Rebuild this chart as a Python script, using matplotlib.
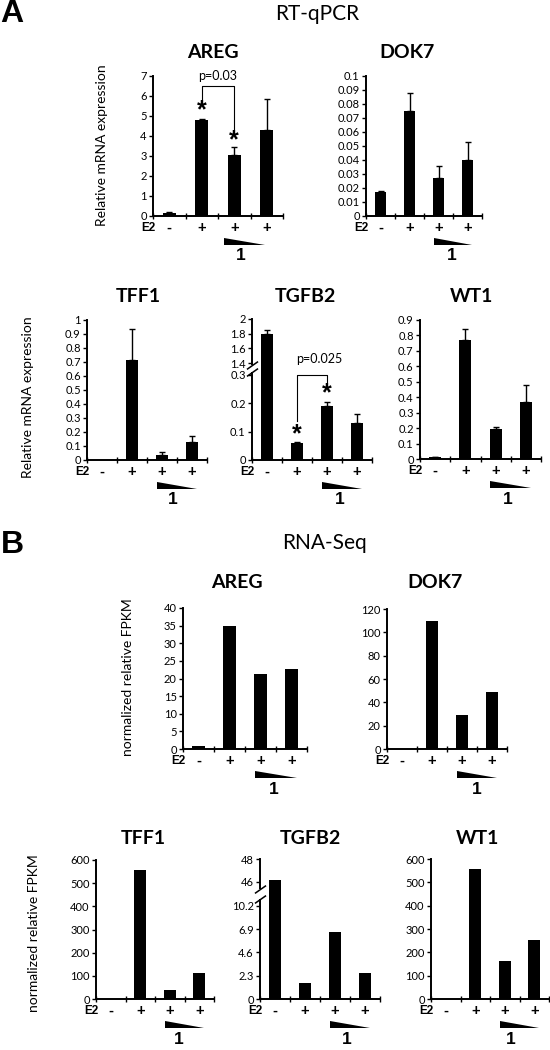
import numpy as np
import matplotlib
matplotlib.use('Agg')
import matplotlib.pyplot as plt
import matplotlib.transforms as mtransforms
from matplotlib.patches import Polygon

# ---------------- data ----------------
signs = ['-', '+', '+', '+']

qpcr_areg = [0.13, 4.82, 3.03, 4.30]
qpcr_areg_err = [0.05, 0.04, 0.40, 1.55]
qpcr_dok7 = [0.0173, 0.075, 0.027, 0.0397]
qpcr_dok7_err = [0.0005, 0.013, 0.0087, 0.0133]
qpcr_tff1 = [0.0, 0.713, 0.037, 0.13]
qpcr_tff1_err = [0.0, 0.222, 0.02, 0.045]
qpcr_tgfb2 = [1.79, 0.06, 0.19, 0.13]
qpcr_tgfb2_err = [0.055, 0.004, 0.015, 0.03]
qpcr_wt1 = [0.011, 0.773, 0.193, 0.366]
qpcr_wt1_err = [0.005, 0.071, 0.013, 0.112]

seq_areg = [0.8, 34.8, 21.3, 22.7]
seq_dok7 = [0.4, 110.0, 29.3, 49.0]
seq_tff1 = [0.0, 556.0, 37.0, 113.0]
seq_tgfb2 = [46.2, 1.55, 6.6, 2.55]
seq_wt1 = [0.0, 558.0, 163.0, 253.0]

areg_a_ticks = [0, 1, 2, 3, 4, 5, 6, 7]
areg_a_labels = ['0', '1', '2', '3', '4', '5', '6', '7']
dok7_a_ticks = [0, 0.01, 0.02, 0.03, 0.04, 0.05, 0.06, 0.07, 0.08, 0.09, 0.1]
dok7_a_labels = ['0', '0.01', '0.02', '0.03', '0.04', '0.05', '0.06', '0.07', '0.08', '0.09', '0.1']
tff1_a_ticks = [0, 0.1, 0.2, 0.3, 0.4, 0.5, 0.6, 0.7, 0.8, 0.9, 1.0]
tff1_a_labels = ['0', '0.1', '0.2', '0.3', '0.4', '0.5', '0.6', '0.7', '0.8', '0.9', '1']
tgfb2_a_ticks = [0, 0.1, 0.2, 0.3, 1.4, 1.6, 1.8, 2.0]
tgfb2_a_labels = ['0', '0.1', '0.2', '0.3', '1.4', '1.6', '1.8', '2']
wt1_a_ticks = [0, 0.1, 0.2, 0.3, 0.4, 0.5, 0.6, 0.7, 0.8, 0.9]
wt1_a_labels = ['0', '0.1', '0.2', '0.3', '0.4', '0.5', '0.6', '0.7', '0.8', '0.9']

areg_b_ticks = [0, 5, 10, 15, 20, 25, 30, 35, 40]
dok7_b_ticks = [0, 20, 40, 60, 80, 100, 120]
tff1_b_ticks = [0, 100, 200, 300, 400, 500, 600]
tgfb2_b_ticks = [0, 2.3, 4.6, 6.9, 10.2, 46, 48]
tgfb2_b_labels = ['0', '2.3', '4.6', '6.9', '10.2', '46', '48']
wt1_b_ticks = [0, 100, 200, 300, 400, 500, 600]

# broken-axis scale definitions (value -> scaled position)
tgfb2_a_break_vals = [0, 0.3, 1.4, 2.0]
tgfb2_a_break_pos = [0, 0.3, 0.34, 0.495]
tgfb2_b_break_vals = [0, 6.9, 10.2, 46, 48]
tgfb2_b_break_pos = [0, 6.9, 9.2, 11.55, 13.82]

# ---------------- style ----------------
W, H = 550, 1050
CAL = 'Lato'
ARI = 'Liberation Sans'
plt.rcParams['font.family'] = [CAL, 'DejaVu Sans']

fig = plt.figure(figsize=(W / 100, H / 100), dpi=100)


def rect(l, t, r, b):
    return [l / W, 1 - b / H, (r - l) / W, (b - t) / H]


def piecewise(xs, ys):
    a = np.asarray(xs, float)
    b = np.asarray(ys, float)
    s0 = (b[1] - b[0]) / (a[1] - a[0])
    s1 = (b[-1] - b[-2]) / (a[-1] - a[-2])

    def f(v):
        v = np.asarray(v, float)
        out = np.interp(v, a, b)
        out = np.where(v < a[0], b[0] + (v - a[0]) * s0, out)
        out = np.where(v > a[-1], b[-1] + (v - a[-1]) * s1, out)
        return out
    return f


def make_axes(box, vals, ylim, yticks, ylabels, err=None, wedge=(1.83, 3.17),
              one_x=2.4, scale=None):
    l, t, r, b = box
    hpx = b - t
    ax = fig.add_axes(rect(*box))
    if scale is not None:
        fwd = piecewise(*scale)
        inv = piecewise(scale[1], scale[0])
        ax.set_yscale('function', functions=(fwd, inv))
    x = np.arange(len(vals))
    ax.bar(x, vals, width=0.4, color='black', zorder=2)
    if err is not None:
        e = np.asarray(err)
        m = e > 0
        ax.errorbar(x[m], np.asarray(vals)[m], yerr=[np.zeros(m.sum()), e[m]],
                    fmt='none', ecolor='black', elinewidth=1.0, capsize=2.2,
                    capthick=1.0, zorder=3)
    ax.set_xlim(-0.5, 3.5)
    ax.set_ylim(*ylim)
    for s in ['top', 'right']:
        ax.spines[s].set_visible(False)
    for s in ['left', 'bottom']:
        ax.spines[s].set_linewidth(1.4)
    ax.set_yticks(yticks)
    ax.set_yticklabels(ylabels, fontsize=8, family=CAL)
    ax.yaxis.set_minor_locator(matplotlib.ticker.NullLocator())
    ax.tick_params(axis='y', direction='out', length=3, width=1, pad=1.5)
    ax.set_xticks(x)
    ax.set_xticklabels(signs, fontsize=10.5, family=ARI, fontweight='bold')
    for lab in ax.get_xticklabels():
        lab.set_va('center')
    ax.tick_params(axis='x', which='major', length=0, pad=12 * 0.72)
    ax.set_xticks([-0.5, 0.5, 1.5, 2.5, 3.5], minor=True)
    ax.tick_params(axis='x', which='minor', direction='inout', length=5, width=1)
    # E2 label
    ax.annotate('E2', xy=(0, 0), xycoords='axes fraction', xytext=(2, -12 * 0.72),
                textcoords='offset points', ha='right', va='center',
                fontsize=8.5, family=ARI, fontweight='bold', annotation_clip=False)
    # wedge
    tr = mtransforms.blended_transform_factory(ax.transData, ax.transAxes)
    y_top, y_bot = -21.5 / hpx, -28.5 / hpx
    poly = Polygon([(wedge[0], y_top), (wedge[0], y_bot), (wedge[1], y_bot)],
                   closed=True, facecolor='black', edgecolor='none',
                   transform=tr, clip_on=False)
    ax.add_patch(poly)
    ax.annotate('1', xy=(one_x, 0), xycoords=('data', 'axes fraction'),
                xytext=(0, -40 * 0.72), textcoords='offset points', ha='center',
                va='center', fontsize=12.5, family=ARI, fontweight='bold',
                annotation_clip=False)
    return ax


def add_break(ax, y1, y2):
    tr = mtransforms.blended_transform_factory(ax.transAxes, ax.transData)
    ax.plot([0, 0], [y1, y2], transform=tr, color='white', lw=3, clip_on=False,
            zorder=5, solid_capstyle='butt')
    ax.plot([0, 0], [y1, y2], transform=tr, linestyle='none',
            marker=[(-1, -0.7), (1, 0.7)], markersize=8, mew=1.1,
            color='black', clip_on=False, zorder=6)


def title(x, y, s):
    fig.text(x / W, 1 - y / H, s, ha='center', va='center', fontsize=14,
             family=CAL, fontweight='bold')


def ylab(x, y, s):
    fig.text(x / W, 1 - y / H, s, ha='center', va='center', rotation=90,
             fontsize=10, family=CAL)


# ---------------- panel A ----------------
fig.text(12 / W, 1 - 14 / H, 'A', ha='center', va='center', fontsize=23,
         family=ARI, fontweight='bold')
fig.text(317 / W, 1 - 14 / H, 'RT-qPCR', ha='center', va='center', fontsize=15,
         family=CAL)

ax = make_axes((153, 76, 283, 216), qpcr_areg, (0, 7), areg_a_ticks, areg_a_labels,
               err=qpcr_areg_err, wedge=(1.68, 2.95), one_x=2.2)
ax.plot([1, 1, 2, 2], [5.5, 6.5, 6.5, 4.0], color='black', lw=0.8)
ax.text(1.5, 7.0, 'p=0.03', ha='center', va='center', fontsize=9, family=CAL)
ax.text(1, 5.3, '*', ha='center', va='center', fontsize=18, family=ARI, fontweight='bold')
ax.text(2, 3.8, '*', ha='center', va='center', fontsize=18, family=ARI, fontweight='bold')
title(213, 52, 'AREG')
ylab(102, 145, 'Relative mRNA expression')

make_axes((366, 76, 482, 216), qpcr_dok7, (0, 0.1), dok7_a_ticks, dok7_a_labels,
          err=qpcr_dok7_err, one_x=2.47)
title(407, 52, 'DOK7')

make_axes((87, 320, 207, 460), qpcr_tff1, (0, 1.0), tff1_a_ticks, tff1_a_labels,
          err=qpcr_tff1_err, one_x=2.37)
title(138, 296, 'TFF1')
ylab(28, 397, 'Relative mRNA expression')

ax = make_axes((252, 319, 372, 460), qpcr_tgfb2, (0, 2.0), tgfb2_a_ticks,
               tgfb2_a_labels, err=qpcr_tgfb2_err, one_x=2.43,
               scale=(tgfb2_a_break_vals, tgfb2_a_break_pos))
add_break(ax, 0.55, 1.2)
ax.plot([1, 1, 2, 2], [0.137, 0.30, 0.30, 0.262], color='black', lw=0.8)
ax.text(1.75, 1.45, 'p=0.025', ha='center', va='center', fontsize=9, family=CAL)
ax.text(1, 0.09, '*', ha='center', va='center', fontsize=18, family=ARI, fontweight='bold')
ax.text(2, 0.235, '*', ha='center', va='center', fontsize=18, family=ARI, fontweight='bold')
title(305, 296, 'TGFB2')

make_axes((420, 320, 541, 459), qpcr_wt1, (0, 0.9), wt1_a_ticks, wt1_a_labels,
          err=qpcr_wt1_err, one_x=2.4)
title(472, 296, 'WT1')

# ---------------- panel B ----------------
fig.text(12 / W, 1 - 545 / H, 'B', ha='center', va='center', fontsize=23,
         family=ARI, fontweight='bold')
fig.text(325 / W, 1 - 543 / H, 'RNA-Seq', ha='center', va='center', fontsize=15,
         family=CAL)

make_axes((183, 608, 307, 749), seq_areg, (0, 40), areg_b_ticks,
          [str(v) for v in areg_b_ticks], one_x=2.43)
title(237, 583, 'AREG')
ylab(128, 677, 'normalized relative FPKM')

make_axes((387, 609, 507, 749), seq_dok7, (0, 120), dok7_b_ticks,
          [str(v) for v in dok7_b_ticks], one_x=2.5)
title(435, 583, 'DOK7')

make_axes((96, 860, 214, 999), seq_tff1, (0, 600), tff1_b_ticks,
          [str(v) for v in tff1_b_ticks], one_x=2.3)
title(143, 839, 'TFF1')
ylab(34, 933, 'normalized relative FPKM')

ax = make_axes((260, 859, 380, 999), seq_tgfb2, (0, 48), tgfb2_b_ticks,
               tgfb2_b_labels, one_x=2.4,
               scale=(tgfb2_b_break_vals, tgfb2_b_break_pos))
add_break(ax, 20, 35)
title(310, 839, 'TGFB2')

make_axes((431, 859, 549, 999), seq_wt1, (0, 600), wt1_b_ticks,
          [str(v) for v in wt1_b_ticks], one_x=2.2)
title(478, 839, 'WT1')

fig.savefig('out.png', dpi=100)
